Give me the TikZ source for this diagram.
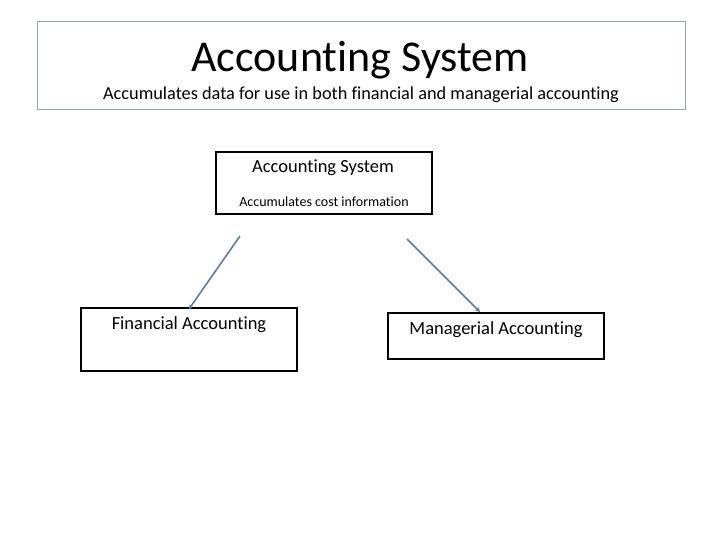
\documentclass[tikz,border=0pt]{standalone}
\usepackage{fontspec}
\setmainfont{Carlito}[Ligatures=NoCommon]
\usetikzlibrary{arrows.meta}
\definecolor{frameblue}{HTML}{95A8B8}
\definecolor{arrowblue}{HTML}{5A7FA0}
\begin{document}
\begin{tikzpicture}[x=1pt,y=-1pt,
  boxstyle/.style={draw=black,line width=1.8pt},
  conn/.style={draw=arrowblue,line width=1.6pt,-{Stealth[length=4.5pt,width=4.5pt]}}]
\useasboundingbox (0,0) rectangle (720,540);
\fill[white] (0,0) rectangle (720,540);
% top banner
\draw[frameblue,line width=1pt] (37,22) rectangle (685,110);
\node[anchor=base,font=\fontsize{44}{48}\selectfont] (title) at (360,72) {Accounting System};
\node[anchor=base,font=\fontsize{18.3}{21}\selectfont] (subtitle) at (361,100) {Accumulates data for use in both financial and managerial accounting};
% middle box
\draw[boxstyle] (216,152) rectangle (432,214);
\node[anchor=base,font=\fontsize{18.5}{21}\selectfont] (mtitle) at (323,173) {Accounting System};
\node[anchor=base,font=\fontsize{14}{16}\selectfont] (msub) at (324,207) {Accumulates cost information};
% left box
\draw[boxstyle] (81,308) rectangle (297,371);
\node[anchor=base,font=\fontsize{18.5}{21}\selectfont] (fin) at (189,329) {Financial Accounting};
% right box
\draw[boxstyle] (388,313) rectangle (604,359);
\node[anchor=base,font=\fontsize{18.5}{21}\selectfont] (man) at (496,334) {Managerial Accounting};
% connectors
\coordinate (l1) at (240,236);
\coordinate (l2) at (189,309);
\coordinate (r1) at (407,239);
\coordinate (r2) at (480,312);
\draw[conn] (l1) -- (l2);
\draw[conn] (r1) -- (r2);
\end{tikzpicture}
\end{document}
